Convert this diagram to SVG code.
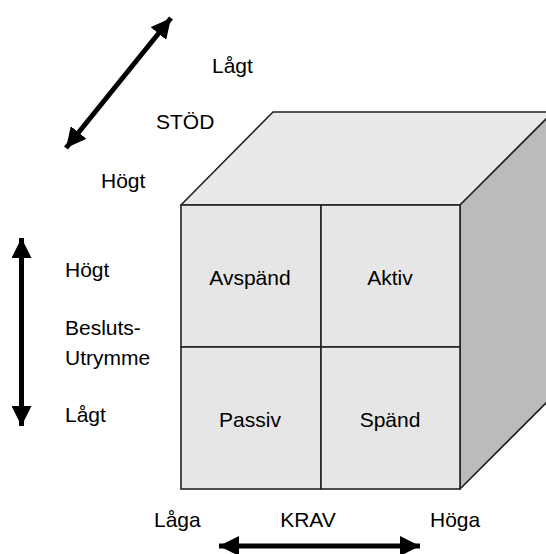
<svg xmlns="http://www.w3.org/2000/svg" width="546" height="554" viewBox="0 0 546 554">
<defs>
<style>
.lbl{font-family:"Liberation Sans",Arial,sans-serif;font-size:21px;fill:#000}
.mid{text-anchor:middle}
.face{stroke:#222;stroke-width:1.6;stroke-linejoin:round}
.cell{fill:#e6e6e6;stroke:#222;stroke-width:1.6}
.arr{stroke:#000;stroke-width:5;fill:none}
</style>
<marker id="ah" markerUnits="userSpaceOnUse" markerWidth="20" markerHeight="20" refX="18" refY="9" orient="auto-start-reverse" viewBox="0 0 18 18">
<path d="M0,0 L18,9 L0,18 Z" fill="#000"/>
</marker>
</defs>
<rect width="546" height="554" fill="#fff"/>
<g id="cube">
<polygon class="face" points="181,205 273,112 560,112 460,205" fill="#e9e9e9"/>
<polygon class="face" points="460,205 560,105 560,389 460,489" fill="#bbbbbb"/>
</g>
<g id="avspand"><rect class="cell" x="181" y="205" width="140" height="142"/><text class="lbl mid" x="250" y="285">Avspänd</text></g>
<g id="aktiv"><rect class="cell" x="321" y="205" width="139" height="142"/><text class="lbl mid" x="390" y="285">Aktiv</text></g>
<g id="passiv"><rect class="cell" x="181" y="347" width="140" height="142"/><text class="lbl mid" x="250" y="427">Passiv</text></g>
<g id="spand"><rect class="cell" x="321" y="347" width="139" height="142"/><text class="lbl mid" x="390" y="427">Spänd</text></g>
<g id="connectors">
<line class="arr" x1="66" y1="148" x2="171" y2="18" marker-start="url(#ah)" marker-end="url(#ah)"/>
<line class="arr" x1="21.5" y1="238" x2="21.5" y2="426" marker-start="url(#ah)" marker-end="url(#ah)"/>
<line class="arr" x1="219" y1="546" x2="420" y2="546" marker-start="url(#ah)" marker-end="url(#ah)"/>
</g>
<g id="labels">
<text class="lbl" x="212" y="73">Lågt</text>
<text class="lbl" x="156" y="129">STÖD</text>
<text class="lbl" x="101" y="188">Högt</text>
<text class="lbl" x="65" y="277">Högt</text>
<text class="lbl" x="65" y="335">Besluts-</text>
<text class="lbl" x="65" y="365">Utrymme</text>
<text class="lbl" x="65" y="422">Lågt</text>
<text class="lbl" x="154" y="527">Låga</text>
<text class="lbl mid" x="308" y="527">KRAV</text>
<text class="lbl" x="430" y="527">Höga</text>
</g>
</svg>
